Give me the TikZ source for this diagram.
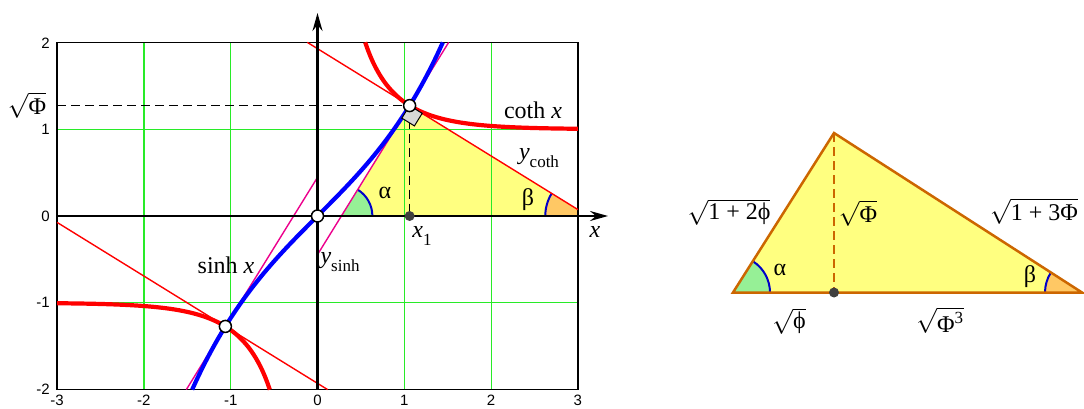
\documentclass[tikz,border=0pt]{standalone}
\usepackage{fontspec}
\setmainfont{Liberation Serif}
\newfontfamily\tickfont{Liberation Sans}
\usetikzlibrary{arrows.meta,angles,calc}
\definecolor{gridGreen}{RGB}{40,235,40}
\definecolor{fillYellow}{RGB}{255,255,128}
\definecolor{angleGreen}{RGB}{150,240,150}
\definecolor{angleOrange}{RGB}{255,200,100}
\definecolor{arcBlue}{RGB}{0,0,200}
\definecolor{triEdge}{RGB}{204,102,0}
\definecolor{dotGray}{RGB}{64,64,64}
\definecolor{markGray}{RGB}{215,215,215}
\newcommand{\lowered}[1]{\raisebox{-0.3em}{\fontsize{17}{17}\selectfont #1}}

\begin{document}
\begin{tikzpicture}[x=1pt,y=-1pt,
    lbl/.style={font=\fontsize{24}{26}\selectfont,inner sep=0pt},
    tick/.style={font=\tickfont\fontsize{15}{15}\selectfont,inner sep=0pt},
    gridline/.style={draw=gridGreen,line width=1.2pt},
    curve/.style={line width=4.2pt},
    tangent/.style={line width=1.4pt},
    guide/.style={line width=1.3pt,dash pattern=on 9pt off 5pt},
    axis/.style={line width=2.4pt,-{Stealth[length=18pt,width=10pt,inset=6pt]}},
    hollow/.style={circle,draw=black,fill=white,line width=1.5pt,inner sep=0pt,minimum size=12pt},
    footdot/.style={circle,fill=dotGray,inner sep=0pt,minimum size=10pt},
    anglemark/.style={draw=arcBlue,line width=2pt}
  ]
  \useasboundingbox (0,0) rectangle (1084,409);

  % left: sinh x and coth x
  \begin{scope}[shift={(317.5,216)},x=86.8pt,y=86.8pt]
    \coordinate (O) at (0,0);
    \coordinate (P) at (1.06128,1.27202);
    \coordinate (Q) at (-1.06128,-1.27202);
    \coordinate (X1) at (1.06128,0);
    \coordinate (Va) at (0.27513,0);
    \coordinate (Vb) at (3.11945,0);
    \begin{scope}
      \clip (-3,-2) rectangle (3,2);
      \fill[fillYellow] (Va) -- (P) -- (Vb) -- cycle;
      \pic[anglemark,fill=angleGreen,angle radius=31pt] {angle=Vb--Va--P};
      \pic[anglemark,fill=angleOrange,angle radius=43pt] {angle=P--Vb--Va};
    \end{scope}
    \foreach \gx in {-2,-1,1,2}
      \draw[gridline] (\gx,-2) -- (\gx,2);
    \foreach \gy in {-1,1}
      \draw[gridline] (-3,\gy) -- (3,\gy);
    \draw[line width=1.3pt] (-3,-2) rectangle (3,2);
    \coordinate (Ph) at (-3,1.27202);
    \draw[guide] (Ph) -- (P);
    \draw[guide] (P) -- (X1);
    % tangents
    \coordinate (ms0) at (0,-0.44517);
    \coordinate (ms1) at (1.5112,2);
    \coordinate (ns0) at (-1.5112,-2);
    \coordinate (ns1) at (0,0.44517);
    \coordinate (mc0) at (-0.11662,2);
    \coordinate (mc1) at (3,0.07380);
    \coordinate (nc0) at (-3,-0.07380);
    \coordinate (nc1) at (0.11662,-2);
    \draw[tangent,magenta] (ms0) -- (ms1);
    \draw[tangent,magenta] (ns0) -- (ns1);
    \draw[tangent,red] (mc0) -- (mc1);
    \draw[tangent,red] (nc0) -- (nc1);
    \draw[curve,red] plot[domain=0.5493:3,samples=80,smooth] (\x,{1/tanh(\x)});
    \draw[curve,red] plot[domain=-3:-0.5493,samples=80,smooth] (\x,{1/tanh(\x)});
    \draw[curve,blue] plot[domain=-1.4436:1.4436,samples=60,smooth] (\x,{sinh(\x)});
    \begin{scope}[shift={(P)},rotate=-31.717]
      \draw[fill=markGray,line width=1pt] (0,0) -- (0.17,0) -- (0.17,-0.17) -- (0,-0.17) -- cycle;
    \end{scope}
    \coordinate (xa0) at (-3,0);
    \coordinate (xa1) at (3.347,0);
    \coordinate (ya0) at (0,-2);
    \coordinate (ya1) at (0,2.339);
    \draw[axis] (xa0) -- (xa1);
    \draw[axis] (ya0) -- (ya1);
    \node[hollow] (o) at (O) {};
    \node[hollow] (p) at (P) {};
    \node[hollow] (q) at (Q) {};
    \node[footdot] (x1) at (X1) {};
  \end{scope}

  % tick labels
  \foreach \t/\py in {2/43,1/129.2,0/216,-1/302.8,-2/389.6}
    \node[tick,anchor=east] at (50,\py) {\t};
  \foreach \t in {-3,...,3}
    \node[tick] at (317.5+86.8*\t,400.5) {\t};

  \node[lbl] (phiy) at (27,105) {$\sqrt{\mbox{Φ}}$};
  \node[lbl] (cothlbl) at (533,110) {coth \textit{x}};
  \node[lbl] (ycoth) at (539,158) {\textit{y}\lowered{coth}};
  \node[lbl] (alab) at (385,193) {α};
  \node[lbl] (blab) at (528,200) {β};
  \node[lbl] (x1lab) at (422,236) {\textit{x}\lowered{1}};
  \node[lbl] (xlab) at (595,232) {\textit{x}};
  \node[lbl] (sinhlbl) at (226,265) {sinh \textit{x}};
  \node[lbl] (ysinh) at (340,262) {\textit{y}\lowered{sinh}};

  % right: the triangle
  \begin{scope}[shift={(733,292.5)},y=1pt]
    \coordinate (A) at (0,0);
    \coordinate (D) at (101,0);
    \coordinate (C) at (101,159.5);
    \coordinate (B) at (349,0);
    \fill[fillYellow] (A) -- (C) -- (B) -- cycle;
    \pic[anglemark,fill=angleGreen,angle radius=37pt] {angle=B--A--C};
    \pic[anglemark,fill=angleOrange,angle radius=37pt] {angle=C--B--A};
    \draw[triEdge,line width=2.5pt,dash pattern=on 9pt off 5pt] (C) -- (D);
    \draw[triEdge,line width=2.5pt] (A) -- (C) -- (B) -- cycle;
    \node[footdot] (d) at (D) {};
  \end{scope}
  \node[lbl] (sideac) at (729,212) {$\sqrt{\mbox{1 + 2ϕ}}$};
  \node[lbl] (sidecd) at (858,213) {$\sqrt{\mbox{Φ}}$};
  \node[lbl] (sidecb) at (1034,211) {$\sqrt{\mbox{1 + 3Φ}}$};
  \node[lbl] (talpha) at (780,270) {α};
  \node[lbl] (tbeta) at (1030,277) {β};
  \node[lbl] (sidead) at (789,321) {$\sqrt{\mbox{ϕ}}$};
  \node[lbl] (sidedb) at (940,320) {$\displaystyle\sqrt{\mbox{Φ}^{\mbox{\fontsize{17}{17}\selectfont 3}}}$};
\end{tikzpicture}
\end{document}
